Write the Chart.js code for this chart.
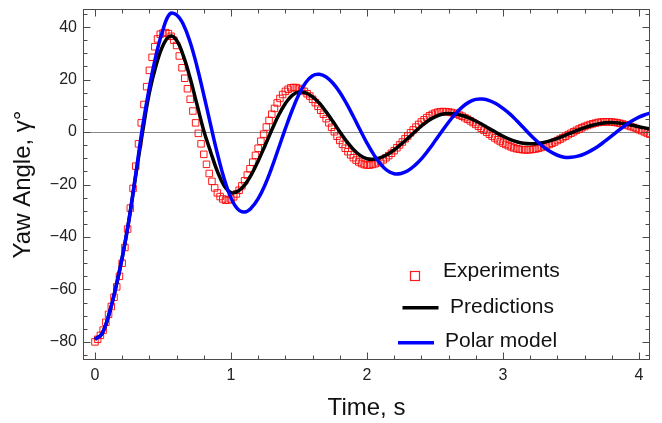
<!DOCTYPE html>
<html>
<head>
<meta charset="utf-8">
<script src="https://cdn.jsdelivr.net/npm/chart.js@4.4.1/dist/chart.umd.min.js"></script>
<style>
  html, body { margin: 0; padding: 0; background: #fff; }
</style>
</head>
<body>
<canvas id="yawChart" width="662" height="423"></canvas>
<script>
// time base of the two model curves (s)
const lineTime = [0, 0.05, 0.1, 0.15, 0.2, 0.25, 0.3, 0.35, 0.4, 0.45, 0.5, 0.55, 0.6, 0.65, 0.7, 0.75, 0.8, 0.85, 0.9, 0.95,
  1, 1.05, 1.1, 1.15, 1.2, 1.25, 1.3, 1.35, 1.4, 1.45, 1.5, 1.55, 1.6, 1.65, 1.7, 1.75, 1.8, 1.85, 1.9, 1.95,
  2, 2.05, 2.1, 2.15, 2.2, 2.25, 2.3, 2.35, 2.4, 2.45, 2.5, 2.55, 2.6, 2.65, 2.7, 2.75, 2.8, 2.85, 2.9, 2.95,
  3, 3.05, 3.1, 3.15, 3.2, 3.25, 3.3, 3.35, 3.4, 3.45, 3.5, 3.55, 3.6, 3.65, 3.7, 3.75, 3.8, 3.85, 3.9, 3.95,
  4, 4.05, 4.1];

const predictions = [-79, -77, -70, -60, -48, -33.5, -16.5, 0, 15, 25.5, 33, 36.5, 35, 29, 20.5, 10.5, 0.5, -7.5, -15, -20.5,
  -23.1, -22.6, -20.2, -16.2, -11, -5.2, 0.8, 6.4, 10.9, 14, 15.3, 14.9, 13.4, 11, 7.7, 4, 0.1, -3.5, -6.6, -8.9,
  -10.2, -10.35, -9.75, -8.55, -6.8, -4.7, -2.4, 0, 2.3, 4.3, 5.8, 6.8, 7.1, 6.9, 6.3, 5.4, 4.2, 2.8, 1.3, -0.2,
  -1.6, -2.8, -3.7, -4.3, -4.5, -4.35, -3.95, -3.3, -2.4, -1.4, -0.35, 0.7, 1.7, 2.5, 3.1, 3.5, 3.6, 3.45, 3.1, 2.6,
  2, 1.5, 1];

const polarModel = [-79, -77, -70, -60, -48, -33.5, -16, 2, 17, 29.5, 39, 45, 44.7, 41, 34.2, 25, 14.2, 2.8, -8.2, -17.8,
  -25.1, -29.4, -30.5, -28.9, -25.4, -20.2, -13.6, -6.2, 1.3, 8.3, 14.4, 18.9, 21.5, 22, 21, 18.6, 15.2, 10.8, 5.9, 0.75,
  -4.2, -8.6, -12.2, -14.7, -15.9, -15.8, -14.75, -12.8, -10.2, -7, -3.45, 0.2, 3.75, 6.9, 9.5, 11.4, 12.45, 12.55, 12, 10.8,
  9, 6.9, 4.4, 1.7, -1, -3.5, -5.75, -7.55, -8.85, -9.6, -9.65, -9.2, -8.3, -7, -5.4, -3.5, -1.5, 0.6, 2.6, 4.3,
  5.7, 6.7, 7.5];

// measured samples (s)
const expTime = [0, 0.02, 0.04, 0.06, 0.08, 0.1, 0.12, 0.14, 0.16, 0.18, 0.2, 0.22, 0.24, 0.26, 0.28, 0.3, 0.32, 0.34, 0.36, 0.38,
  0.4, 0.42, 0.44, 0.46, 0.48, 0.5, 0.52, 0.54, 0.56, 0.58, 0.6, 0.62, 0.64, 0.66, 0.68, 0.7, 0.72, 0.74, 0.76, 0.78,
  0.8, 0.82, 0.84, 0.86, 0.88, 0.9, 0.92, 0.94, 0.96, 0.98, 1, 1.02, 1.04, 1.06, 1.08, 1.1, 1.12, 1.14, 1.16, 1.18,
  1.2, 1.22, 1.24, 1.26, 1.28, 1.3, 1.32, 1.34, 1.36, 1.38, 1.4, 1.42, 1.44, 1.46, 1.48, 1.5, 1.52, 1.54, 1.56, 1.58,
  1.6, 1.62, 1.64, 1.66, 1.68, 1.7, 1.72, 1.74, 1.76, 1.78, 1.8, 1.82, 1.84, 1.86, 1.88, 1.9, 1.92, 1.94, 1.96, 1.98,
  2, 2.02, 2.04, 2.06, 2.08, 2.1, 2.12, 2.14, 2.16, 2.18, 2.2, 2.22, 2.24, 2.26, 2.28, 2.3, 2.32, 2.34, 2.36, 2.38,
  2.4, 2.42, 2.44, 2.46, 2.48, 2.5, 2.52, 2.54, 2.56, 2.58, 2.6, 2.62, 2.64, 2.66, 2.68, 2.7, 2.72, 2.74, 2.76, 2.78,
  2.8, 2.82, 2.84, 2.86, 2.88, 2.9, 2.92, 2.94, 2.96, 2.98, 3, 3.02, 3.04, 3.06, 3.08, 3.1, 3.12, 3.14, 3.16, 3.18,
  3.2, 3.22, 3.24, 3.26, 3.28, 3.3, 3.32, 3.34, 3.36, 3.38, 3.4, 3.42, 3.44, 3.46, 3.48, 3.5, 3.52, 3.54, 3.56, 3.58,
  3.6, 3.62, 3.64, 3.66, 3.68, 3.7, 3.72, 3.74, 3.76, 3.78, 3.8, 3.82, 3.84, 3.86, 3.88, 3.9, 3.92, 3.94, 3.96, 3.98,
  4, 4.02, 4.04, 4.06, 4.08];

const experiments = [-80, -79, -77.5, -75.5, -72.5, -69.5, -66.5, -63, -59, -55, -50, -44, -37, -29, -21.5, -13, -4.5, 3.5, 10.5, 17.3,
  23.5, 28.5, 32.5, 35.5, 37.3, 37.7, 37.9, 37.5, 36.5, 35, 33, 29, 24.5, 20.5, 16.5, 12.5, 8, 3.5, -0.5, -4.5,
  -8.5, -12.3, -15.8, -18.8, -21.3, -23.2, -24.6, -25.5, -26, -25.9, -25.5, -24.7, -23.6, -22.2, -20.5, -18.6, -16.4, -14, -11.5, -8.9,
  -6.2, -3.5, -0.8, 1.9, 4.4, 6.8, 9, 11.1, 12.8, 14.3, 15.5, 16.3, 16.85, 17, 16.9, 16.6, 16.1, 15.5, 14.6, 13.7,
  12.5, 11.2, 9.8, 8.3, 6.8, 5.1, 3.5, 1.8, 0.1, -1.6, -3.2, -4.7, -6.2, -7.5, -8.7, -9.8, -10.7, -11.4, -12, -12.4,
  -12.6, -12.6, -12.35, -12.1, -11.7, -11.2, -10.6, -9.8, -9, -8.1, -7.1, -6, -4.9, -3.8, -2.6, -1.5, -0.3, 0.8, 1.9, 2.9,
  3.85, 4.7, 5.5, 6.2, 6.75, 7.2, 7.55, 7.75, 7.8, 7.75, 7.65, 7.45, 7.2, 6.85, 6.45, 6, 5.45, 4.9, 4.25, 3.6,
  2.9, 2.2, 1.45, 0.7, -0.05, -0.8, -1.55, -2.25, -2.95, -3.6, -4.2, -4.75, -5.2, -5.65, -6.05, -6.35, -6.55, -6.7, -6.8, -6.8,
  -6.75, -6.6, -6.45, -6.2, -5.9, -5.55, -5.2, -4.75, -4.3, -3.8, -3.25, -2.7, -2.15, -1.6, -1, -0.45, 0.1, 0.65, 1.15, 1.65,
  2.1, 2.5, 2.85, 3.15, 3.4, 3.65, 3.8, 3.85, 3.9, 3.9, 3.8, 3.7, 3.55, 3.3, 3.05, 2.8, 2.45, 2.1, 1.75, 1.35,
  0.9, 0.5, 0.05, -0.4, -0.85];

const xTickValues = [0, 1, 2, 3, 4];
const yTickValues = [-80, -60, -40, -20, 0, 20, 40];

const fontFam = '"Liberation Sans", Arial, sans-serif';
const toPoints = (xs, ys) => xs.map((x, i) => ({ x: x, y: ys[i] }));
const fmt = v => (v < 0 ? '\u2212' + Math.abs(v) : String(v));

// frame with inside ticks on all four sides + zero line
const frameTicks = {
  id: 'frameTicks',
  beforeDatasetsDraw(chart) {
    const { ctx, chartArea: a, scales: { y } } = chart;
    const y0 = Math.round(y.getPixelForValue(0)) + 0.5;
    ctx.save();
    ctx.strokeStyle = '#8a8a8a';
    ctx.lineWidth = 1.2;
    ctx.beginPath();
    ctx.moveTo(a.left, y0);
    ctx.lineTo(a.right, y0);
    ctx.stroke();
    ctx.restore();
  },
  afterDatasetsDraw(chart) {
    const { ctx, chartArea: a, scales: { x, y } } = chart;
    const L = Math.round(a.left) + 0.5, R = Math.round(a.right) - 0.5;
    const T = Math.round(a.top) + 0.5, B = Math.round(a.bottom) - 0.5;
    ctx.save();
    ctx.strokeStyle = '#4a4a4a';
    ctx.lineWidth = 1;
    ctx.strokeRect(L, T, R - L, B - T);
    ctx.beginPath();
    for (let i = 0; i <= 20; i++) {
      const v = i / 5;
      const len = i % 5 === 0 ? 7 : 4;
      const px = Math.round(x.getPixelForValue(v)) + 0.5;
      ctx.moveTo(px, B); ctx.lineTo(px, B - len);
      ctx.moveTo(px, T); ctx.lineTo(px, T + len);
    }
    for (let v = -85; v <= 45; v += 5) {
      const len = v % 20 === 0 ? 7 : 4;
      const py = Math.round(y.getPixelForValue(v)) + 0.5;
      ctx.moveTo(L, py); ctx.lineTo(L + len, py);
      ctx.moveTo(R, py); ctx.lineTo(R - len, py);
    }
    ctx.stroke();
    ctx.restore();
  }
};

// legend drawn inside the plot, lower right
const legendRows = [{ y: 271.5, mark: 415, markY: 276, text: 443 },
                    { y: 307, mark: 420.5, markY: 307.7, text: 450 },
                    { y: 341.5, mark: 416, markY: 342.7, text: 445 }];
const insideLegend = {
  id: 'insideLegend',
  afterDraw(chart) {
    const ctx = chart.ctx;
    ctx.save();
    ctx.font = '21px ' + fontFam;
    ctx.textBaseline = 'middle';
    ctx.textAlign = 'left';
    chart.data.datasets.forEach((ds, i) => {
      const r = legendRows[i];
      if (ds.showLine) {
        ctx.strokeStyle = ds.borderColor;
        ctx.lineWidth = ds.borderWidth;
        ctx.beginPath();
        ctx.moveTo(r.mark - 18, r.markY);
        ctx.lineTo(r.mark + 18, r.markY);
        ctx.stroke();
      } else {
        ctx.strokeStyle = ds.pointBorderColor;
        ctx.lineWidth = 1.2;
        ctx.strokeRect(r.mark - 4.5, r.markY - 4.5, 9, 9);
      }
      ctx.fillStyle = '#111';
      ctx.fillText(ds.label, r.text, r.y);
    });
    ctx.restore();
  }
};

const ctx = document.getElementById('yawChart').getContext('2d');
const yawChart = new Chart(ctx, {
  type: 'scatter',
  data: {
    datasets: [{
      label: 'Experiments',
      data: toPoints(expTime, experiments),
      showLine: false,
      pointStyle: 'rect',
      pointRadius: 4.6,
      pointBorderWidth: 1,
      pointBorderColor: 'rgba(255, 0, 0, 0.9)',
      pointBackgroundColor: 'rgba(0, 0, 0, 0)',
      order: 3
    }, {
      label: 'Predictions',
      data: toPoints(lineTime, predictions),
      showLine: true,
      borderColor: '#000000',
      borderWidth: 3.5,
      pointRadius: 0,
      tension: 0.4,
      order: 2
    }, {
      label: 'Polar model',
      data: toPoints(lineTime, polarModel),
      showLine: true,
      borderColor: '#0000ff',
      borderWidth: 3.5,
      pointRadius: 0,
      tension: 0.4,
      order: 1
    }]
  },
  options: {
    responsive: false,
    animation: false,
    devicePixelRatio: 1,
    layout: { padding: { top: 9, right: 12, bottom: 0, left: 0 } },
    plugins: { legend: { display: false }, tooltip: { enabled: false } },
    scales: {
      x: {
        type: 'linear',
        min: -0.088,
        max: 4.081,
        afterBuildTicks: s => { s.ticks = xTickValues.map(v => ({ value: v })); },
        afterFit: s => { s.height = 63; s.paddingLeft = 0; s.paddingRight = 0; },
        grid: { display: false, drawTicks: false },
        border: { display: false },
        ticks: { autoSkip: false, maxRotation: 0, padding: 6, color: '#222', font: { family: fontFam, size: 16 }, callback: v => fmt(v) },
        title: { display: true, text: 'Time, s', color: '#111', font: { family: fontFam, size: 24 }, padding: { top: 0, bottom: 0 } }
      },
      y: {
        type: 'linear',
        min: -86.9,
        max: 46.9,
        afterBuildTicks: s => { s.ticks = yTickValues.map(v => ({ value: v })); },
        afterFit: s => { s.width = 83; s.paddingTop = 0; s.paddingBottom = 0; },
        grid: { display: false, drawTicks: false },
        border: { display: false },
        ticks: { autoSkip: false, padding: 6, color: '#222', font: { family: fontFam, size: 16 }, callback: v => fmt(v) },
        title: { display: true, text: 'Yaw Angle, \u03b3\u00b0', color: '#111', font: { family: fontFam, size: 24 }, padding: { top: 9, bottom: 0 } }
      }
    }
  },
  plugins: [frameTicks, insideLegend]
});
</script>
</body>
</html>
